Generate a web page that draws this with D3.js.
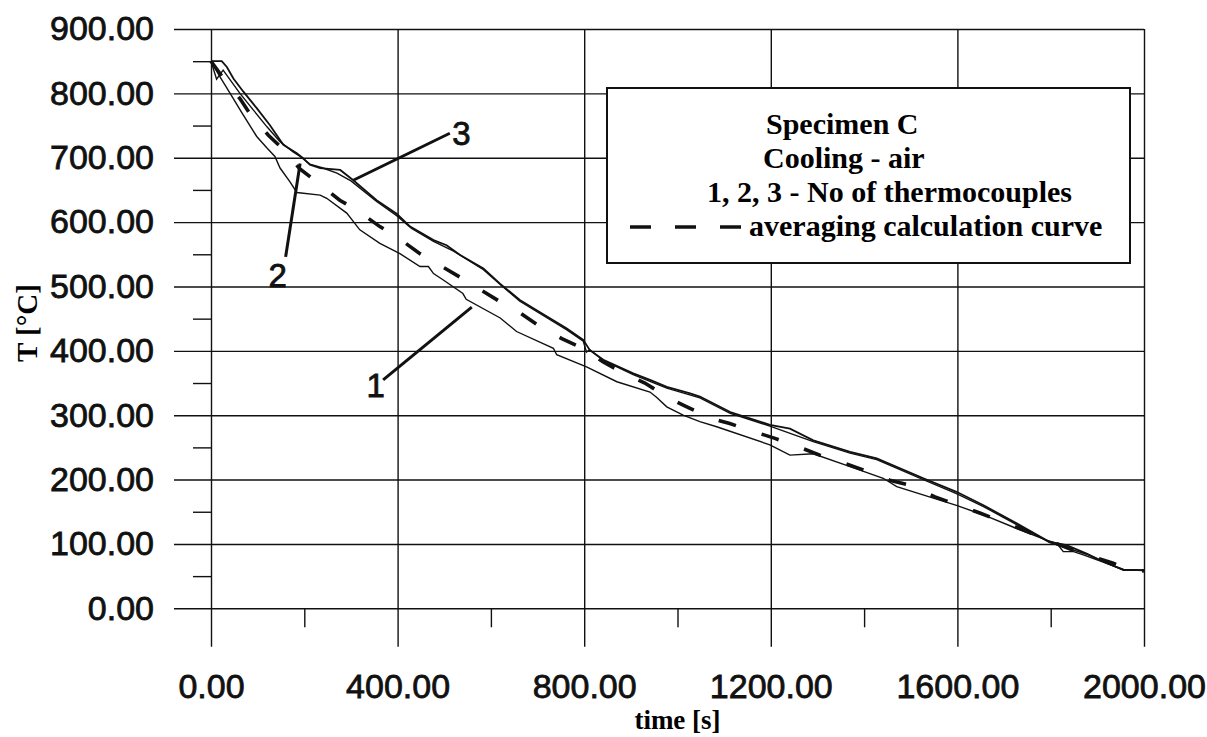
<!DOCTYPE html>
<html>
<head>
<meta charset="utf-8">
<script src="https://cdn.jsdelivr.net/npm/d3@7"></script>
<style>
  body { margin: 0; background: #fff; }
  svg { display: block; }
</style>
</head>
<body>
<div id="chart"></div>
<script>
// ticks
const xTicks = [0, 400, 800, 1200, 1600, 2000];
const xMinorTicks = [200, 600, 1000, 1400, 1800];
const yTicks = [0, 100, 200, 300, 400, 500, 600, 700, 800, 900];
const yMinorTicks = [50, 150, 250, 350, 450, 550, 650, 750, 850];

// thermocouple 1 (lowest trace), [time s, T °C]
const curve1 = [[0,850],[18,827],[41,800],[66,770],[98,733],[120,715],[137,702],[148,684],[169,663],[184,646],
  [234,642],[248,637],[291,614],[319,588],[362,567],[405,551],[448,531],[466,531],[477,520],[498,510],
  [540,489],[547,480],[620,451],[655,430],[734,404],[741,394],[805,375],[870,352],[941,336],[955,328],
  [977,313],[1012,300],[1048,290],[1084,282],[1198,254],[1241,238],[1291,240],[1370,220],[1441,202],
  [1470,189],[1598,160],[1656,145],[1727,124],[1791,106],[1813,101],[1827,88],[1849,88],[1870,83],
  [1920,70],[1956,60],[2000,59]];

// thermocouple 2
const curve2 = [[0,850],[12,822],[26,836],[62,800],[91,774],[120,748],[148,725],[176,709],[191,702],[212,690],
  [240,684],[270,676],[300,664],[355,632],[398,610],[430,590],[477,570],[520,555],[584,526],[620,503],
  [662,477],[762,433],[798,415],[805,398],[812,402],[841,385],[905,363],[977,342],[1048,327],[1113,303],
  [1198,283],[1291,259],[1370,241],[1427,231],[1527,200],[1598,178],[1656,158],[1727,130],[1798,102],
  [1877,84],[1956,59],[2000,59]];

// thermocouple 3 (upper trace)
const curve3 = [[0,850],[23,850],[34,841],[48,823],[69,803],[98,777],[126,751],[155,720],[166,715],[184,707],
  [198,699],[212,689],[234,684],[277,681],[305,665],[355,634],[398,613],[427,593],[477,572],[505,564],
  [534,549],[584,528],[620,504],[662,479],[691,466],[762,435],[798,417],[812,401],[841,386],[905,365],
  [941,355],[977,344],[1027,334],[1048,329],[1113,305],[1198,285],[1241,279],[1291,261],[1370,243],
  [1427,233],[1527,202],[1598,181],[1656,160],[1727,132],[1798,103],[1834,98],[1877,85],[1920,70],
  [1956,60],[2000,59]];

// averaging calculation curve
const averageCurve = [[0,850],[30,820],[62,792],[83,769],[123,735],[152,715],[190,683],[226,663],[276,634],
  [312,619],[362,593],[398,577],[448,551],[483,536],[537,513],[573,497],[625,474],[662,459],[711,435],
  [752,419],[805,401],[840,383],[893,362],[930,350],[983,326],[1020,313],[1073,295],[1112,287],
  [1170,273],[1209,264],[1266,249],[1305,238],[1359,225],[1398,215],[1455,199],[1495,192],[1552,173],
  [1591,163],[1648,148],[1688,137],[1741,122],[1777,111],[1838,93],[1877,83],[1934,70],[1970,60],[2000,58]];

const curveNames = ["1", "2", "3"];
const legendLines = ["Specimen C", "Cooling - air", "1, 2, 3 - No of thermocouples", "averaging calculation curve"];

const W = 1207, H = 737;
const svg = d3.select("#chart").append("svg")
  .attr("width", W).attr("height", H);

const x = d3.scaleLinear().domain([0, 2000]).range([211, 1144]);
const y = d3.scaleLinear().domain([0, 900]).range([608.3, 29]);

const fmt = d3.format(".2f");
const ink = "#111";

// scanned-looking sans labels: regular face with a thin outline
const sansLabel = sel => sel
  .attr("fill", ink).attr("stroke", ink).attr("stroke-width", 0.8)
  .style("font-family", "'Liberation Sans', Arial, sans-serif").style("font-size", "34px");

// y gridlines + major ticks + labels
svg.append("g")
  .attr("transform", `translate(${x(2000)},0)`)
  .call(d3.axisLeft(y).tickValues(yTicks).tickSize(x(2000) - x(0) + 37).tickPadding(20).tickFormat(fmt))
  .call(g => g.select(".domain").remove())
  .call(g => g.selectAll("line").attr("stroke", ink).attr("stroke-width", 1.4))
  .call(g => g.selectAll("text").call(sansLabel));

// y minor ticks
svg.append("g")
  .attr("transform", `translate(${x(0)},0)`)
  .call(d3.axisLeft(y).tickValues(yMinorTicks).tickSize(18).tickFormat(""))
  .call(g => g.select(".domain").remove())
  .call(g => g.selectAll("line").attr("stroke", ink).attr("stroke-width", 1.4));

// x gridlines + major ticks + labels
svg.append("g")
  .attr("transform", `translate(0,${y(0) + 38.5})`)
  .call(d3.axisBottom(x).tickValues(xTicks).tickSize(-(y(0) + 38.5 - y(900))).tickPadding(27).tickFormat(fmt))
  .call(g => g.select(".domain").remove())
  .call(g => g.selectAll("line").attr("stroke", ink).attr("stroke-width", 1.4))
  .call(g => g.selectAll("text").call(sansLabel));

// x minor ticks
svg.append("g")
  .attr("transform", `translate(0,${y(0)})`)
  .call(d3.axisBottom(x).tickValues(xMinorTicks).tickSize(19).tickFormat(""))
  .call(g => g.select(".domain").remove())
  .call(g => g.selectAll("line").attr("stroke", ink).attr("stroke-width", 1.4));

// axis titles
svg.append("text")
  .attr("x", (x(0) + x(2000)) / 2).attr("y", 729)
  .attr("text-anchor", "middle")
  .style("font-family", "'Liberation Serif', 'Times New Roman', serif")
  .style("font-weight", "bold").style("font-size", "27px")
  .text("time [s]");

svg.append("text")
  .attr("transform", "translate(37,323) rotate(-90)")
  .attr("text-anchor", "middle")
  .style("font-family", "'Liberation Serif', 'Times New Roman', serif")
  .style("font-weight", "bold").style("font-size", "29px")
  .text("T [°C]");

// curves
const line = d3.line().x(d => x(d[0])).y(d => y(d[1]));

svg.append("path").datum(curve1)
  .attr("fill", "none").attr("stroke", ink).attr("stroke-width", 1.4).attr("d", line);
svg.append("path").datum(curve2)
  .attr("fill", "none").attr("stroke", ink).attr("stroke-width", 1.4).attr("d", line);
svg.append("path").datum(curve3)
  .attr("fill", "none").attr("stroke", ink).attr("stroke-width", 1.8).attr("d", line);
svg.append("path").datum(averageCurve)
  .attr("fill", "none").attr("stroke", ink).attr("stroke-width", 3.6)
  .attr("stroke-dasharray", "18,27").attr("d", line);

// curve callouts (anchor points in data units)
const callouts = [
  { name: curveNames[0], text: [353, 347], from: [369, 355], to: [559, 468] },
  { name: curveNames[1], text: [143, 518], from: [160, 546], to: [191, 691] },
  { name: curveNames[2], text: [537, 738], from: [512, 738], to: [305, 665] }
];
callouts.forEach(c => {
  svg.append("line")
    .attr("x1", x(c.from[0])).attr("y1", y(c.from[1]))
    .attr("x2", x(c.to[0])).attr("y2", y(c.to[1]))
    .attr("stroke", ink).attr("stroke-width", 3);
  svg.append("text")
    .attr("x", x(c.text[0])).attr("y", y(c.text[1]))
    .attr("dy", "0.36em").attr("text-anchor", "middle")
    .call(sansLabel).style("font-size", "33px")
    .text(c.name);
});

// legend box
const lg = svg.append("g");
lg.append("rect")
  .attr("x", 607).attr("y", 88).attr("width", 523).attr("height", 175)
  .attr("fill", "#fff").attr("stroke", ink).attr("stroke-width", 2);

const legendFont = g => g
  .style("font-family", "'Liberation Serif', 'Times New Roman', serif")
  .style("font-weight", "bold").style("font-size", "30px");

lg.append("text").attr("x", 766).attr("y", 134).call(legendFont).text(legendLines[0]);
lg.append("text").attr("x", 763).attr("y", 168).call(legendFont).text(legendLines[1]);
lg.append("text").attr("x", 707).attr("y", 202).call(legendFont).text(legendLines[2]);
lg.append("line")
  .attr("x1", 630).attr("x2", 742).attr("y1", 227).attr("y2", 227)
  .attr("stroke", ink).attr("stroke-width", 3.6).attr("stroke-dasharray", "21,24");
lg.append("text").attr("x", 749).attr("y", 236).call(legendFont).text(legendLines[3]);
</script>
</body>
</html>
